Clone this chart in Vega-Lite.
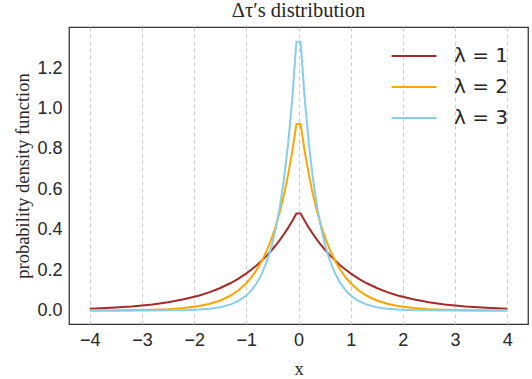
{
  "$schema": "https://vega.github.io/schema/vega-lite/v6.json",
  "width": 459,
  "height": 297,
  "autosize": {"type": "none"},
  "padding": {"left": 69, "top": 27, "right": 4, "bottom": 55},
  "background": "white",
  "title": {"text": "Δτ′s distribution", "font": "Liberation Serif", "fontSize": 20.5, "fontWeight": "normal", "color": "#262626", "offset": 6},
  "config": {
    "view": {"stroke": "#333333", "strokeWidth": 1.25},
    "axis": {"labelFont": "Liberation Sans", "labelFontSize": 18, "labelColor": "#262626", "titleFont": "Liberation Serif", "titleFontSize": 18.5, "titleFontWeight": "normal", "titleColor": "#262626", "ticks": false, "domain": false, "labelPadding": 7},
    "legend": {"labelFont": "DejaVu Sans", "labelFontSize": 20, "labelColor": "#262626", "padding": 0, "rowPadding": 5}
  },
  "data": {"values": [
    {"x": -4.0, "y": 0.0092, "s": "λ = 1"}, {"x": -3.6, "y": 0.0137, "s": "λ = 1"}, {"x": -3.2, "y": 0.0204, "s": "λ = 1"}, {"x": -2.8, "y": 0.0304, "s": "λ = 1"}, {"x": -2.5, "y": 0.0410, "s": "λ = 1"}, {"x": -2.2, "y": 0.0554, "s": "λ = 1"}, {"x": -1.9, "y": 0.0748, "s": "λ = 1"}, {"x": -1.7, "y": 0.0913, "s": "λ = 1"}, {"x": -1.5, "y": 0.1116, "s": "λ = 1"}, {"x": -1.3, "y": 0.1363, "s": "λ = 1"}, {"x": -1.15, "y": 0.1583, "s": "λ = 1"}, {"x": -1.0, "y": 0.1839, "s": "λ = 1"}, {"x": -0.9, "y": 0.2033, "s": "λ = 1"}, {"x": -0.8, "y": 0.2247, "s": "λ = 1"}, {"x": -0.7, "y": 0.2483, "s": "λ = 1"}, {"x": -0.6, "y": 0.2744, "s": "λ = 1"}, {"x": -0.52, "y": 0.2973, "s": "λ = 1"}, {"x": -0.44, "y": 0.3220, "s": "λ = 1"}, {"x": -0.36, "y": 0.3488, "s": "λ = 1"}, {"x": -0.28, "y": 0.3779, "s": "λ = 1"}, {"x": -0.2, "y": 0.4094, "s": "λ = 1"}, {"x": -0.12, "y": 0.4435, "s": "λ = 1"}, {"x": -0.04, "y": 0.4804, "s": "λ = 1"},
    {"x": 0.04, "y": 0.4804, "s": "λ = 1"}, {"x": 0.12, "y": 0.4435, "s": "λ = 1"}, {"x": 0.2, "y": 0.4094, "s": "λ = 1"}, {"x": 0.28, "y": 0.3779, "s": "λ = 1"}, {"x": 0.36, "y": 0.3488, "s": "λ = 1"}, {"x": 0.44, "y": 0.3220, "s": "λ = 1"}, {"x": 0.52, "y": 0.2973, "s": "λ = 1"}, {"x": 0.6, "y": 0.2744, "s": "λ = 1"}, {"x": 0.7, "y": 0.2483, "s": "λ = 1"}, {"x": 0.8, "y": 0.2247, "s": "λ = 1"}, {"x": 0.9, "y": 0.2033, "s": "λ = 1"}, {"x": 1.0, "y": 0.1839, "s": "λ = 1"}, {"x": 1.15, "y": 0.1583, "s": "λ = 1"}, {"x": 1.3, "y": 0.1363, "s": "λ = 1"}, {"x": 1.5, "y": 0.1116, "s": "λ = 1"}, {"x": 1.7, "y": 0.0913, "s": "λ = 1"}, {"x": 1.9, "y": 0.0748, "s": "λ = 1"}, {"x": 2.2, "y": 0.0554, "s": "λ = 1"}, {"x": 2.5, "y": 0.0410, "s": "λ = 1"}, {"x": 2.8, "y": 0.0304, "s": "λ = 1"}, {"x": 3.2, "y": 0.0204, "s": "λ = 1"}, {"x": 3.6, "y": 0.0137, "s": "λ = 1"}, {"x": 4.0, "y": 0.0092, "s": "λ = 1"},
    {"x": -4.0, "y": 0.0003, "s": "λ = 2"}, {"x": -3.6, "y": 0.0007, "s": "λ = 2"}, {"x": -3.2, "y": 0.0017, "s": "λ = 2"}, {"x": -2.8, "y": 0.0037, "s": "λ = 2"}, {"x": -2.5, "y": 0.0067, "s": "λ = 2"}, {"x": -2.2, "y": 0.0123, "s": "λ = 2"}, {"x": -1.9, "y": 0.0224, "s": "λ = 2"}, {"x": -1.7, "y": 0.0334, "s": "λ = 2"}, {"x": -1.5, "y": 0.0498, "s": "λ = 2"}, {"x": -1.3, "y": 0.0743, "s": "λ = 2"}, {"x": -1.15, "y": 0.1003, "s": "λ = 2"}, {"x": -1.0, "y": 0.1353, "s": "λ = 2"}, {"x": -0.9, "y": 0.1653, "s": "λ = 2"}, {"x": -0.8, "y": 0.2019, "s": "λ = 2"}, {"x": -0.7, "y": 0.2466, "s": "λ = 2"}, {"x": -0.6, "y": 0.3012, "s": "λ = 2"}, {"x": -0.52, "y": 0.3535, "s": "λ = 2"}, {"x": -0.44, "y": 0.4148, "s": "λ = 2"}, {"x": -0.36, "y": 0.4868, "s": "λ = 2"}, {"x": -0.28, "y": 0.5712, "s": "λ = 2"}, {"x": -0.2, "y": 0.6703, "s": "λ = 2"}, {"x": -0.12, "y": 0.7866, "s": "λ = 2"}, {"x": -0.04, "y": 0.9231, "s": "λ = 2"},
    {"x": 0.04, "y": 0.9231, "s": "λ = 2"}, {"x": 0.12, "y": 0.7866, "s": "λ = 2"}, {"x": 0.2, "y": 0.6703, "s": "λ = 2"}, {"x": 0.28, "y": 0.5712, "s": "λ = 2"}, {"x": 0.36, "y": 0.4868, "s": "λ = 2"}, {"x": 0.44, "y": 0.4148, "s": "λ = 2"}, {"x": 0.52, "y": 0.3535, "s": "λ = 2"}, {"x": 0.6, "y": 0.3012, "s": "λ = 2"}, {"x": 0.7, "y": 0.2466, "s": "λ = 2"}, {"x": 0.8, "y": 0.2019, "s": "λ = 2"}, {"x": 0.9, "y": 0.1653, "s": "λ = 2"}, {"x": 1.0, "y": 0.1353, "s": "λ = 2"}, {"x": 1.15, "y": 0.1003, "s": "λ = 2"}, {"x": 1.3, "y": 0.0743, "s": "λ = 2"}, {"x": 1.5, "y": 0.0498, "s": "λ = 2"}, {"x": 1.7, "y": 0.0334, "s": "λ = 2"}, {"x": 1.9, "y": 0.0224, "s": "λ = 2"}, {"x": 2.2, "y": 0.0123, "s": "λ = 2"}, {"x": 2.5, "y": 0.0067, "s": "λ = 2"}, {"x": 2.8, "y": 0.0037, "s": "λ = 2"}, {"x": 3.2, "y": 0.0017, "s": "λ = 2"}, {"x": 3.6, "y": 0.0007, "s": "λ = 2"}, {"x": 4.0, "y": 0.0003, "s": "λ = 2"},
    {"x": -4.0, "y": 0.0, "s": "λ = 3"}, {"x": -3.6, "y": 0.0, "s": "λ = 3"}, {"x": -3.2, "y": 0.0001, "s": "λ = 3"}, {"x": -2.8, "y": 0.0003, "s": "λ = 3"}, {"x": -2.5, "y": 0.0008, "s": "λ = 3"}, {"x": -2.2, "y": 0.0020, "s": "λ = 3"}, {"x": -1.9, "y": 0.0050, "s": "λ = 3"}, {"x": -1.7, "y": 0.0092, "s": "λ = 3"}, {"x": -1.5, "y": 0.0167, "s": "λ = 3"}, {"x": -1.3, "y": 0.0304, "s": "λ = 3"}, {"x": -1.15, "y": 0.0476, "s": "λ = 3"}, {"x": -1.0, "y": 0.0747, "s": "λ = 3"}, {"x": -0.9, "y": 0.1008, "s": "λ = 3"}, {"x": -0.8, "y": 0.1361, "s": "λ = 3"}, {"x": -0.7, "y": 0.1837, "s": "λ = 3"}, {"x": -0.6, "y": 0.2480, "s": "λ = 3"}, {"x": -0.52, "y": 0.3152, "s": "λ = 3"}, {"x": -0.44, "y": 0.4007, "s": "λ = 3"}, {"x": -0.36, "y": 0.5094, "s": "λ = 3"}, {"x": -0.28, "y": 0.6476, "s": "λ = 3"}, {"x": -0.2, "y": 0.8232, "s": "λ = 3"}, {"x": -0.12, "y": 1.0465, "s": "λ = 3"}, {"x": -0.04, "y": 1.3304, "s": "λ = 3"},
    {"x": 0.04, "y": 1.3304, "s": "λ = 3"}, {"x": 0.12, "y": 1.0465, "s": "λ = 3"}, {"x": 0.2, "y": 0.8232, "s": "λ = 3"}, {"x": 0.28, "y": 0.6476, "s": "λ = 3"}, {"x": 0.36, "y": 0.5094, "s": "λ = 3"}, {"x": 0.44, "y": 0.4007, "s": "λ = 3"}, {"x": 0.52, "y": 0.3152, "s": "λ = 3"}, {"x": 0.6, "y": 0.2480, "s": "λ = 3"}, {"x": 0.7, "y": 0.1837, "s": "λ = 3"}, {"x": 0.8, "y": 0.1361, "s": "λ = 3"}, {"x": 0.9, "y": 0.1008, "s": "λ = 3"}, {"x": 1.0, "y": 0.0747, "s": "λ = 3"}, {"x": 1.15, "y": 0.0476, "s": "λ = 3"}, {"x": 1.3, "y": 0.0304, "s": "λ = 3"}, {"x": 1.5, "y": 0.0167, "s": "λ = 3"}, {"x": 1.7, "y": 0.0092, "s": "λ = 3"}, {"x": 1.9, "y": 0.0050, "s": "λ = 3"}, {"x": 2.2, "y": 0.0020, "s": "λ = 3"}, {"x": 2.5, "y": 0.0008, "s": "λ = 3"}, {"x": 2.8, "y": 0.0003, "s": "λ = 3"}, {"x": 3.2, "y": 0.0001, "s": "λ = 3"}, {"x": 3.6, "y": 0.0, "s": "λ = 3"}, {"x": 4.0, "y": 0.0, "s": "λ = 3"}
  ]},
  "mark": {"type": "line", "interpolate": "linear", "strokeWidth": 2, "strokeJoin": "miter"},
  "encoding": {
    "x": {"field": "x", "type": "quantitative", "title": "x",
      "scale": {"domain": [-4.4, 4.4], "nice": false, "zero": false},
      "axis": {"values": [-4, -3, -2, -1, 0, 1, 2, 3, 4], "format": "d", "grid": true, "gridColor": "#cccccc", "gridDash": [4, 3], "gridWidth": 1, "titlePadding": 10}},
    "y": {"field": "y", "type": "quantitative", "title": "probability density function",
      "scale": {"domain": [-0.0667, 1.404], "nice": false, "zero": false},
      "axis": {"values": [0, 0.2, 0.4, 0.6, 0.8, 1.0, 1.2], "format": ".1f", "grid": false, "titlePadding": 4}},
    "color": {"field": "s", "type": "nominal", "title": null,
      "scale": {"domain": ["λ = 1", "λ = 2", "λ = 3"], "range": ["#a52a2a", "#ffa500", "#87ceeb"]},
      "legend": {"orient": "none", "legendX": 329, "legendY": 13, "symbolType": "M-1.5,0H1.5", "symbolSize": 900, "symbolStrokeWidth": 2, "labelOffset": 24}}
  }
}
